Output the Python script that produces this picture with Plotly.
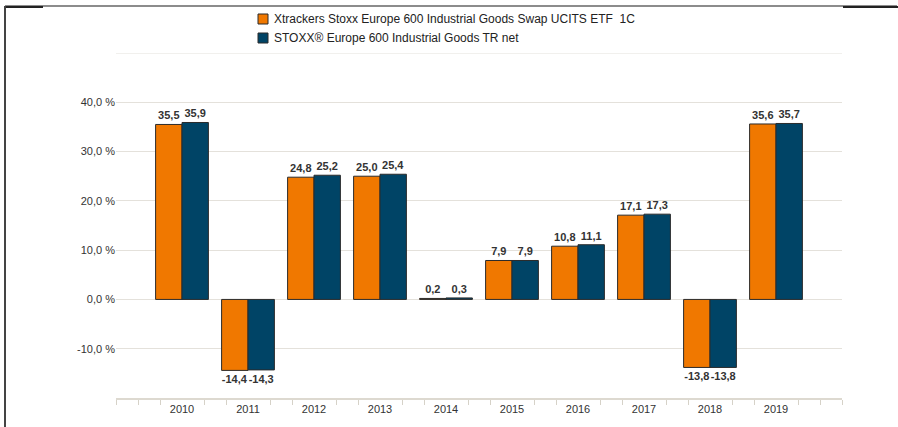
import plotly.graph_objects as go

years = ["2010", "2011", "2012", "2013", "2014", "2015", "2016", "2017", "2018", "2019"]
etf_name = "Xtrackers Stoxx Europe 600 Industrial Goods Swap UCITS ETF  1C"
idx_name = "STOXX® Europe 600 Industrial Goods TR net"
etf_values = [35.5, -14.4, 24.8, 25.0, 0.2, 7.9, 10.8, 17.1, -13.8, 35.6]
idx_values = [35.9, -14.3, 25.2, 25.4, 0.3, 7.9, 11.1, 17.3, -13.8, 35.7]
y_ticks = [-10, 0, 10, 20, 30, 40]

ORANGE = "#F07800"
BLUE = "#004466"
EDGE = "#2b2b2b"
FONT = "Liberation Sans, Arial, sans-serif"

W, H = 898, 427
ML, MR, MT, MB = 116, 56, 53, 29
PW, PH = W - ML - MR, H - MT - MB


def px(x):
    return (x - ML) / PW


def py(y):
    return (H - MB - y) / PH


def fmt(v):
    return f"{v:.1f}".replace(".", ",")


xpos = list(range(len(years)))

fig = go.Figure()
for name, vals, col in [(etf_name, etf_values, ORANGE), (idx_name, idx_values, BLUE)]:
    fig.add_trace(go.Bar(
        x=xpos, y=vals, name=name,
        marker=dict(color=col, line=dict(color=EDGE, width=1)),
        text=[fmt(v) for v in vals], textposition="outside",
        textfont=dict(family=FONT, size=11, color="#333333", weight="bold"),
        cliponaxis=False, showlegend=False, hoverinfo="skip",
    ))

minor_vals = [i / 3 for i in range(-3, 31) if i % 3 != 0 or i in (-3, 30)]

fig.update_layout(
    width=W, height=H,
    margin=dict(l=ML, r=MR, t=MT, b=MB),
    paper_bgcolor="white", plot_bgcolor="white",
    barmode="group", bargap=0.2, bargroupgap=0,
    font=dict(family=FONT, size=11, color="#333333"),
    xaxis=dict(
        range=[-1, 10], tickmode="array", tickvals=xpos, ticktext=years,
        ticks="", showgrid=False, zeroline=False,
        showline=True, linecolor="#ddd9d0", linewidth=2,
        tickfont=dict(family=FONT, size=11, color="#333333"),
        minor=dict(tickmode="array", tickvals=minor_vals, ticks="outside",
                   ticklen=5, tickwidth=1, tickcolor="#d6d2c8", showgrid=False),
    ),
    yaxis=dict(
        range=[-20, 50], tickmode="array", tickvals=y_ticks,
        ticktext=[fmt(v) + " %" for v in y_ticks], ticks="",
        showgrid=True, gridcolor="#e4e1db", gridwidth=1,
        zeroline=False, showline=False,
        tickfont=dict(family=FONT, size=11, color="#333333"),
    ),
    showlegend=False,
)

# top gridline at 50 %
fig.add_shape(type="line", xref="paper", yref="y", x0=0, x1=1, y0=50, y1=50,
              line=dict(color="#e4e1db", width=1))

# manual legend
for i, (name, col) in enumerate([(etf_name, ORANGE), (idx_name, BLUE)]):
    cy = 19 + 19 * i
    fig.add_shape(type="rect", xref="paper", yref="paper",
                  x0=px(258), x1=px(268), y0=py(cy + 5), y1=py(cy - 5),
                  fillcolor=col, line=dict(color=EDGE, width=1))
    fig.add_annotation(xref="paper", yref="paper", x=px(272), y=py(cy),
                       xanchor="left", yanchor="middle", showarrow=False,
                       text=name, font=dict(family=FONT, size=12, color="#222222"))

# frame lines of the screenshot
fig.add_shape(type="line", xref="paper", yref="paper", x0=px(5), x1=px(897),
              y0=py(6), y1=py(6), line=dict(color="#8c8c8c", width=2), layer="above")
fig.add_shape(type="rect", xref="paper", yref="paper", x0=px(5), x1=px(43),
              y0=py(8), y1=py(6), fillcolor="#222222", line=dict(width=0))
fig.add_shape(type="rect", xref="paper", yref="paper", x0=px(843), x1=px(898),
              y0=py(8), y1=py(6), fillcolor="#222222", line=dict(width=0))
fig.add_shape(type="rect", xref="paper", yref="paper", x0=px(4), x1=px(6),
              y0=py(427), y1=py(6), fillcolor="#444444", line=dict(width=0))

fig.write_html(
    "out.html",
    config={"displayModeBar": False},
    post_script="document.body.style.margin='0';document.body.style.overflow='hidden';",
)
